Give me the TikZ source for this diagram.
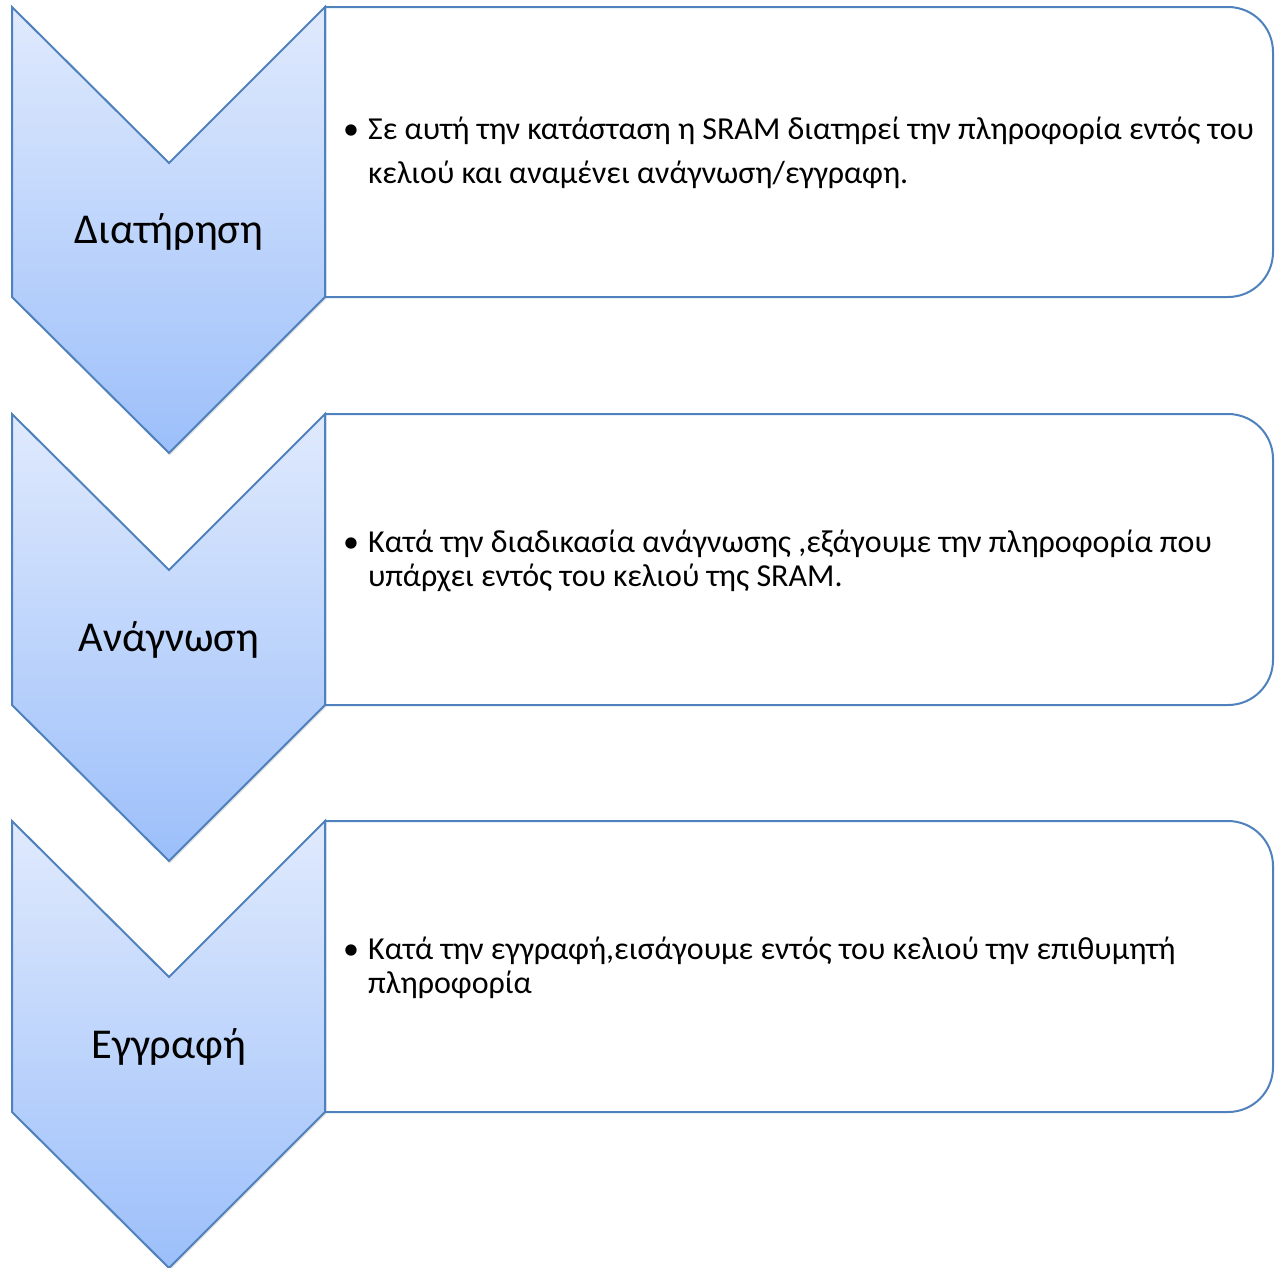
\documentclass[tikz,border=0pt]{standalone}
\usepackage{fontspec}
\setmainfont{Carlito}
\usetikzlibrary{shadows}
\definecolor{edgeblue}{HTML}{4F81BD}
\definecolor{paleblue}{HTML}{E0EAFD}
\definecolor{deepblue}{HTML}{9CBFFA}
\begin{document}
\begin{tikzpicture}[x=1pt,y=-1pt,
    chevron/.style={draw=edgeblue, line width=2pt, line join=miter,
      top color=paleblue, bottom color=deepblue,
      drop shadow={shadow xshift=1pt, shadow yshift=-2pt, opacity=.25}},
    stepbox/.style={draw=edgeblue, line width=2pt, fill=white},
    title/.style={font=\fontsize{42.5}{50}\selectfont},
    info/.style={anchor=west, inner sep=0pt, font=\fontsize{32}{34}\selectfont}]
      \useasboundingbox (0,0) rectangle (1283,1267);

      % Διατήρηση
      \draw[stepbox] (325,297) -- (325,7) -- (1228,7)
        .. controls (1252.9,7) and (1273,27.1) .. (1273,52) -- (1273,252)
        .. controls (1273,276.9) and (1252.9,297) .. (1228,297) -- cycle;
      \draw[chevron] (12,7) -- (169,163) -- (325,7) -- (325,297)
        -- (169,453) -- (12,297) -- cycle;
      \node (hold) at (169,232) [title] {Διατήρηση};
      \node (holdtext) at (343,155) [info] {\begin{tabular}{@{}l@{\hspace{9pt}}l@{}}
        \textbullet & Σε αυτή την κατάσταση η SRAM διατηρεί την πληροφορία εντός του\\[10pt]
        & κελιού και αναμένει ανάγνωση/εγγραφη.\end{tabular}};

      % Ανάγνωση
      \draw[stepbox] (325,705) -- (325,414) -- (1228,414)
        .. controls (1252.9,414) and (1273,434.1) .. (1273,459) -- (1273,660)
        .. controls (1273,684.9) and (1252.9,705) .. (1228,705) -- cycle;
      \draw[chevron] (12,414) -- (169,570) -- (325,414) -- (325,705)
        -- (169,861) -- (12,705) -- cycle;
      \node (read) at (169,640) [title] {Ανάγνωση};
      \node (readtext) at (343,563) [info] {\begin{tabular}{@{}l@{\hspace{9pt}}l@{}}
        \textbullet & Κατά την διαδικασία ανάγνωσης ,εξάγουμε την πληροφορία που\\
        & υπάρχει εντός του κελιού της SRAM.\end{tabular}};

      % Εγγραφή
      \draw[stepbox] (325,1112) -- (325,821) -- (1228,821)
        .. controls (1252.9,821) and (1273,841.1) .. (1273,866) -- (1273,1067)
        .. controls (1273,1091.9) and (1252.9,1112) .. (1228,1112) -- cycle;
      \draw[chevron] (12,821) -- (169,977) -- (325,821) -- (325,1112)
        -- (169,1268) -- (12,1112) -- cycle;
      \node (write) at (169,1047) [title] {Εγγραφή};
      \node (writetext) at (343,970) [info] {\begin{tabular}{@{}l@{\hspace{9pt}}l@{}}
        \textbullet & Κατά την εγγραφή,εισάγουμε εντός του κελιού την επιθυμητή\\
        & πληροφορία\end{tabular}};
\end{tikzpicture}
\end{document}
